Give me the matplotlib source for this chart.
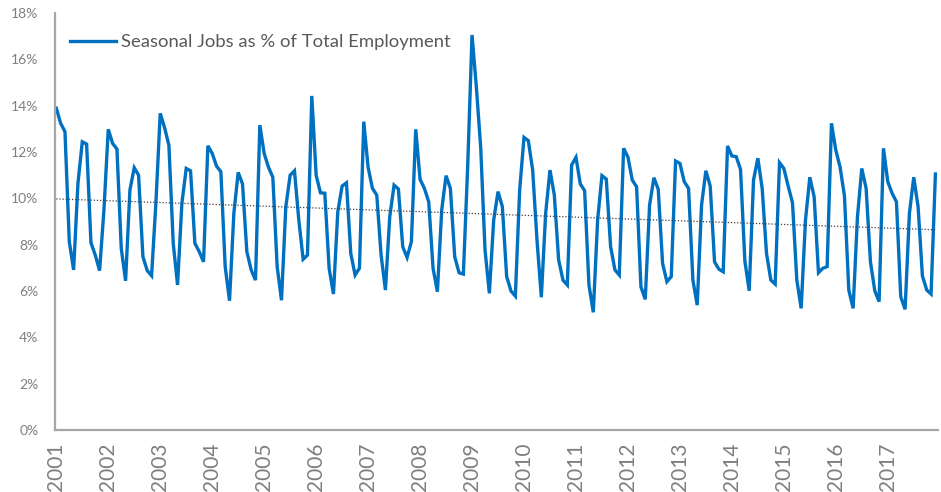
import numpy as np
import matplotlib
matplotlib.use("Agg")
import matplotlib.pyplot as plt

# monthly share of seasonal jobs, Jan 2001 - Dec 2017 (percent)
seasonal_pct = [
    13.89, 13.24, 12.88, 8.13, 6.91, 10.65, 12.44, 12.34, 8.08, 7.55, 6.88, 9.50,
    12.98, 12.37, 12.13, 7.84, 6.44, 10.36, 11.32, 11.00, 7.48, 6.88, 6.66, 9.80,
    13.67, 13.05, 12.30, 8.06, 6.26, 9.78, 11.29, 11.19, 8.06, 7.70, 7.26, 12.27,
    11.94, 11.39, 11.15, 7.05, 5.58, 9.35, 11.12, 10.62, 7.70, 6.91, 6.47, 13.16,
    11.94, 11.34, 10.91, 7.05, 5.60, 9.64, 11.00, 11.19, 9.06, 7.37, 7.55, 14.42,
    11.00, 10.24, 10.22, 6.98, 5.87, 9.42, 10.53, 10.67, 7.62, 6.69, 6.98, 13.31,
    11.34, 10.43, 10.14, 7.55, 6.04, 9.21, 10.57, 10.40, 7.91, 7.45, 8.13, 12.98,
    10.82, 10.43, 9.85, 6.98, 5.97, 9.50, 10.98, 10.43, 7.48, 6.79, 6.73, 11.40,
    17.05, 14.80, 12.20, 7.77, 5.90, 9.06, 10.29, 9.64, 6.62, 6.00, 5.78, 10.36,
    12.63, 12.49, 11.22, 8.20, 5.73, 9.35, 11.22, 10.14, 7.34, 6.47, 6.26, 11.44,
    11.77, 10.62, 10.33, 6.26, 5.08, 9.06, 10.98, 10.83, 7.91, 6.91, 6.69, 12.16,
    11.78, 10.79, 10.50, 6.18, 5.64, 9.71, 10.89, 10.39, 7.19, 6.40, 6.62, 11.61,
    11.51, 10.72, 10.43, 6.47, 5.39, 9.71, 11.19, 10.53, 7.26, 6.94, 6.83, 12.26,
    11.83, 11.80, 11.25, 7.30, 6.01, 10.79, 11.73, 10.43, 7.62, 6.47, 6.30, 11.54,
    11.29, 10.53, 9.81, 6.47, 5.25, 9.06, 10.91, 10.07, 6.79, 6.98, 7.05, 13.24,
    12.08, 11.34, 10.10, 6.04, 5.25, 9.20, 11.29, 10.43, 7.26, 6.01, 5.54, 12.16,
    10.72, 10.22, 9.85, 5.75, 5.21, 9.35, 10.91, 9.64, 6.65, 6.04, 5.87, 11.05,
]
year_labels = [str(y) for y in range(2001, 2018)]
y_ticks = [0, 2, 4, 6, 8, 10, 12, 14, 16, 18]

vals = np.array(seasonal_pct) / 100.0
idx = np.arange(len(vals))

# linear trend line, like Excel's
coef = np.polyfit(idx, vals, 1)
trend = np.polyval(coef, idx)

plt.rcParams["font.family"] = ["Lato", "DejaVu Sans"]

fig = plt.figure(figsize=(9.41, 4.92), dpi=100)
ax = fig.add_axes([55 / 941, 1 - 430 / 492, (938 - 55) / 941, (430 - 13) / 492])

ax.plot(idx, vals, color="#0070C0", lw=2.4, solid_joinstyle="miter",
        label="Seasonal Jobs as % of Total Employment")
ax.plot(idx, trend, color="#404040", lw=0.9, ls=(0, (1, 1.5)))

ax.set_xlim(-0.3, 203.6)
ax.set_ylim(0, 0.18)

ax.set_yticks([t / 100 for t in y_ticks])
ax.set_yticklabels([f"{t}%" for t in y_ticks])
ax.set_xticks(np.arange(0, len(vals), 12))
ax.set_xticklabels(year_labels, rotation=90)

ax.tick_params(axis="y", length=0, pad=12, labelsize=10, labelcolor="#7F7F7F")
ax.tick_params(axis="x", length=0, pad=9, labelsize=15, labelcolor="#7F7F7F")

for side in ["top", "right"]:
    ax.spines[side].set_visible(False)
for side in ["left", "bottom"]:
    ax.spines[side].set_color("#A6A6A6")
    ax.spines[side].set_linewidth(1.6)

leg = ax.legend(loc="upper left", bbox_to_anchor=(0.0, 0.985), frameon=False,
                fontsize=13.3, handlelength=2.5, handletextpad=0.27,
                borderaxespad=0.4)
for t in leg.get_texts():
    t.set_color("#595959")

fig.savefig("out.png", dpi=100)
